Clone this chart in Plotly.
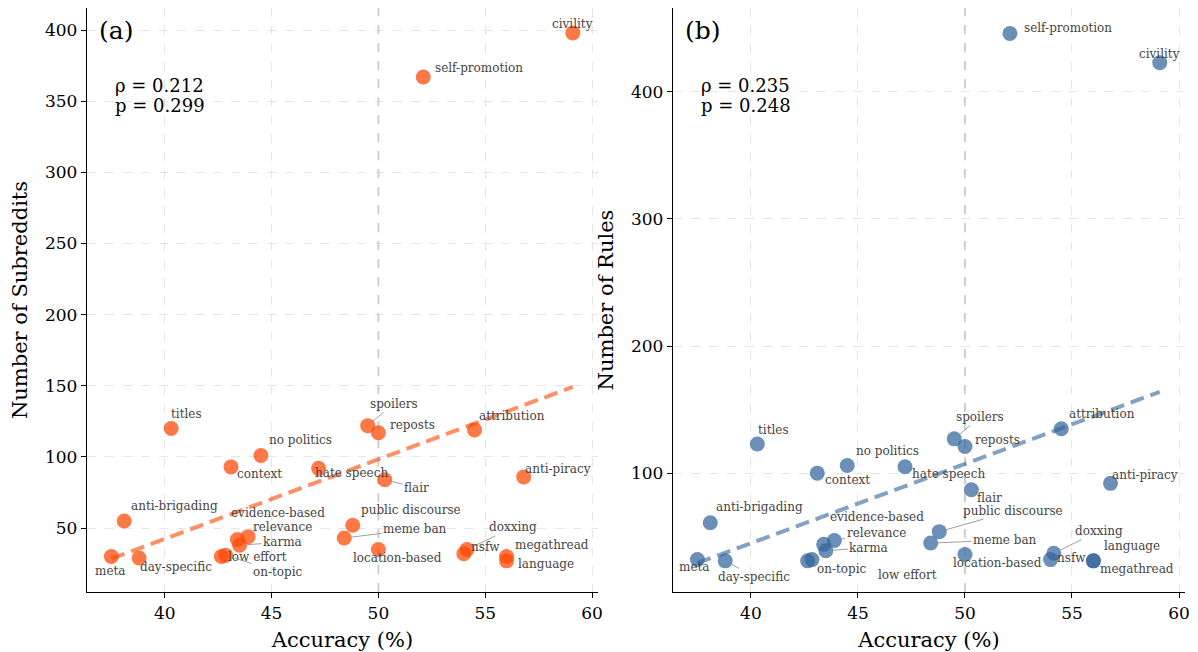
import numpy as np
import plotly.graph_objects as go

categories = ["civility", "self-promotion", "titles", "no politics", "context", "hate speech",
              "spoilers", "reposts", "attribution", "anti-piracy", "flair", "anti-brigading",
              "meta", "day-specific", "low effort", "on-topic", "evidence-based", "relevance",
              "karma", "public discourse", "meme ban", "location-based", "doxxing", "nsfw",
              "megathread", "language"]
accuracy = [59.1, 52.1, 40.3, 44.5, 43.1, 47.2, 49.5, 50.0, 54.5, 56.8, 50.3, 38.1,
            37.5, 38.8, 42.65, 42.85, 43.4, 43.9, 43.5, 48.8, 48.4, 50.0, 54.15, 54.0,
            56.0, 56.0]
n_subreddits = [398, 367, 120, 101, 93, 92, 122, 117, 119, 86, 84, 55,
                30, 29, 30, 31, 42, 44, 38, 52, 43, 35, 35, 32, 30, 27]
n_rules = [423, 446, 123, 106, 100, 105, 127, 121, 135, 92, 87, 61,
           32, 31, 31, 32, 44, 47, 39, 54, 45, 36, 37, 32, 31, 31]
stats_a = ["ρ = 0.212", "p = 0.299"]
stats_b = ["ρ = 0.235", "p = 0.248"]

# label offsets in pixels (dx, dy, leader line?) relative to point
off_a = {
    "civility": (0, -9, False), "self-promotion": (56, -9, False),
    "titles": (15, -15, False), "no politics": (40, -16, False), "context": (29, 7, False),
    "hate speech": (33, 5, False), "spoilers": (26, -22, True), "reposts": (34, -8, False),
    "attribution": (37, -14, False), "anti-piracy": (34, -8, False), "flair": (32, 8, True),
    "anti-brigading": (50, -15, False), "meta": (-1, 14, False), "day-specific": (37, 9, False),
    "low effort": (36, 0, False), "on-topic": (52, 17, True), "evidence-based": (41, -26, False),
    "relevance": (34, -10, True), "karma": (43, -3, True), "public discourse": (58, -15, False),
    "meme ban": (71, -9, True), "location-based": (19, 9, False), "doxxing": (46, -22, True),
    "nsfw": (22, -7, False), "megathread": (45, -12, False), "language": (39, 3, False),
}
off_b = {
    "civility": (0, -9, False), "self-promotion": (58, -5, False),
    "titles": (16, -14, False), "no politics": (40, -15, False), "context": (30, 7, False),
    "hate speech": (43, 7, False), "spoilers": (26, -22, True), "reposts": (33, -6, False),
    "attribution": (41, -15, False), "anti-piracy": (34, -8, False), "flair": (18, 8, False),
    "anti-brigading": (49, -16, False), "meta": (-3, 7, False), "day-specific": (29, 16, True),
    "low effort": (100, 14, False), "on-topic": (30, 9, True), "evidence-based": (53, -27, False),
    "relevance": (42, -8, True), "karma": (43, -3, True), "public discourse": (74, -21, True),
    "meme ban": (74, -3, True), "location-based": (33, 8, False), "doxxing": (45, -22, True),
    "nsfw": (21, -2, False), "language": (39, -15, False), "megathread": (44, 8, False),
}

SERIF = "DejaVu Serif"
orange = "rgb(255,69,0)"
blue = "rgb(50,100,155)"

fig = go.Figure()

def add_panel(yvals, xa, ya, color, offsets, stats, letter):
    fig.add_trace(go.Scatter(x=accuracy, y=yvals, mode="markers", xaxis=xa, yaxis=ya,
                             marker=dict(size=15, color=color, opacity=0.72, line=dict(width=0)),
                             showlegend=False, hoverinfo="text", text=categories))
    k, b = np.polyfit(accuracy, yvals, 1)
    xs = np.array([min(accuracy), max(accuracy)])
    fig.add_trace(go.Scatter(x=xs, y=k * xs + b, mode="lines", xaxis=xa, yaxis=ya,
                             line=dict(color=color, width=4, dash="14px,7px"), opacity=0.6,
                             showlegend=False, hoverinfo="skip"))
    xr = "x" if xa == "x" else "x2"
    yr = "y" if ya == "y" else "y2"
    for c, xv, yv in zip(categories, accuracy, yvals):
        dx, dy, lead = offsets[c]
        fig.add_annotation(x=xv, y=yv, xref=xr, yref=yr, text=c, showarrow=True,
                           ax=dx, ay=dy, axref="pixel", ayref="pixel",
                           arrowhead=0, arrowwidth=1, standoff=7,
                           arrowcolor="rgba(150,150,150,0.9)" if lead else "rgba(0,0,0,0)",
                           font=dict(family=SERIF, size=12, color="#444"))
    dom = xr + " domain"
    ydom = yr + " domain"
    fig.add_annotation(x=0.02, y=0.962, xref=dom, yref=ydom, text=letter, showarrow=False,
                       xanchor="left", yanchor="middle",
                       font=dict(family=SERIF, size=25, color="black"))
    for i, s in enumerate(stats):
        fig.add_annotation(x=0.05, y=0.867 - i * 0.034, xref=dom, yref=ydom, text=s,
                           showarrow=False, xanchor="left", yanchor="middle",
                           font=dict(family=SERIF, size=18, color="black"))
    fig.add_shape(type="line", x0=50, x1=50, y0=0, y1=1, xref=xr, yref=ydom,
                  line=dict(color="rgb(210,210,210)", width=2, dash="dash"), layer="below")

add_panel(n_subreddits, "x", "y", orange, off_a, stats_a, "(a)")
add_panel(n_rules, "x2", "y2", blue, off_b, stats_b, "(b)")

axis_common = dict(showline=True, linecolor="black", linewidth=1.3, ticks="outside",
                   ticklen=5, tickwidth=1.2, tickcolor="black", zeroline=False,
                   showgrid=True, gridcolor="rgba(200,200,200,0.45)", griddash="dash",
                   gridwidth=1, tickfont=dict(family=SERIF, size=17, color="black"),
                   mirror=False)
title_font = dict(family=SERIF, size=21, color="black")

fig.update_layout(
    width=1198, height=652,
    margin=dict(l=79, r=21, t=0, b=68),
    plot_bgcolor="white", paper_bgcolor="white",
    xaxis=dict(domain=[0, 0.4654], range=[36.36, 60.28], tickvals=[40, 45, 50, 55, 60],
               title=dict(text="Accuracy (%)", font=title_font, standoff=10),
               anchor="y", **axis_common),
    yaxis=dict(domain=[0, 1], range=[5.1, 415.5], tickvals=[50, 100, 150, 200, 250, 300, 350, 400],
               title=dict(text="Number of Subreddits", font=title_font, standoff=11),
               anchor="x", **axis_common),
    xaxis2=dict(domain=[0.5337, 1], range=[36.36, 60.28], tickvals=[40, 45, 50, 55, 60],
                title=dict(text="Accuracy (%)", font=title_font, standoff=10),
                anchor="y2", **axis_common),
    yaxis2=dict(domain=[0, 1], range=[6.5, 466], tickvals=[100, 200, 300, 400],
                title=dict(text="Number of Rules", font=title_font, standoff=11),
                anchor="x2", **axis_common),
)

fig.write_html("out.html")
